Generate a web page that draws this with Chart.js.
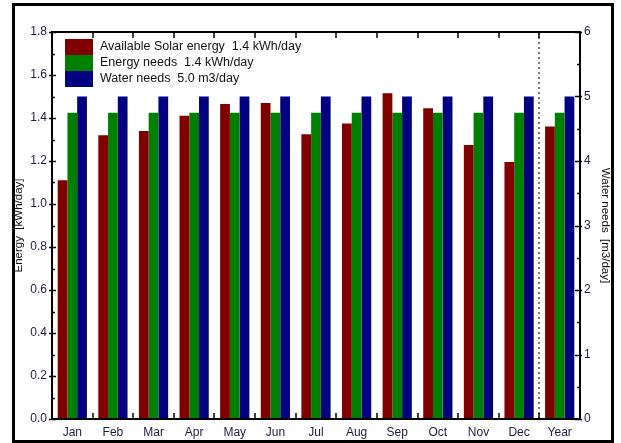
<!DOCTYPE html>
<html>
<head>
<meta charset="utf-8">
<script src="https://cdn.jsdelivr.net/npm/chart.js@4/dist/chart.umd.min.js"></script>
<style>
  html, body { margin: 0; padding: 0; background: #fff; }
  #wrap { position: relative; width: 621px; height: 443px; }
</style>
</head>
<body>
<div id="wrap"><canvas id="solarChart" width="621" height="443"></canvas></div>
<script>
// Monthly values
const months = ['Jan', 'Feb', 'Mar', 'Apr', 'May', 'Jun', 'Jul', 'Aug', 'Sep', 'Oct', 'Nov', 'Dec', 'Year'];
const solarEnergy = [1.11, 1.32, 1.34, 1.41, 1.465, 1.47, 1.325, 1.375, 1.515, 1.445, 1.275, 1.195, 1.36];
const energyNeeds = [1.425, 1.425, 1.425, 1.425, 1.425, 1.425, 1.425, 1.425, 1.425, 1.425, 1.425, 1.425, 1.425];
const waterNeeds = [5.0, 5.0, 5.0, 5.0, 5.0, 5.0, 5.0, 5.0, 5.0, 5.0, 5.0, 5.0, 5.0];
const seriesLabels = ['Available Solar energy  1.4 kWh/day', 'Energy needs  1.4 kWh/day', 'Water needs  5.0 m3/day'];

const labelColor = '#1c1c3a';
const fontFamily = '"Liberation Sans", Arial, sans-serif';

// frame, plot box, tick marks, dotted separator and legend
const decorPlugin = {
    id: 'decor',
    afterDatasetsDraw(chart) {
        const ctx = chart.ctx;
        const area = chart.chartArea;
        const xS = chart.scales.x;
        const yL = chart.scales.y;
        const yR = chart.scales.y2;
        ctx.save();

        // outer frame
        ctx.strokeStyle = '#000';
        ctx.lineWidth = 3;
        ctx.strokeRect(13.5, 4.5, 599, 437);

        // dotted line between Dec and Year
        const sepX = Math.round((xS.getPixelForValue(11) + xS.getPixelForValue(12)) / 2);
        ctx.strokeStyle = '#777';
        ctx.lineWidth = 2;
        ctx.setLineDash([2, 3]);
        ctx.beginPath();
        ctx.moveTo(sepX, area.top);
        ctx.lineTo(sepX, area.bottom);
        ctx.stroke();
        ctx.setLineDash([]);

        // plot box
        ctx.strokeStyle = '#000';
        ctx.lineWidth = 2;
        ctx.strokeRect(area.left, area.top, area.right - area.left, area.bottom - area.top);

        ctx.lineWidth = 1.5;
        ctx.beginPath();
        // category boundary ticks, top and bottom
        for (let i = 1; i < months.length; i++) {
            const x = Math.round((xS.getPixelForValue(i - 1) + xS.getPixelForValue(i)) / 2);
            ctx.moveTo(x, area.top);
            ctx.lineTo(x, area.top + 6);
            ctx.moveTo(x, area.bottom);
            ctx.lineTo(x, area.bottom - 6);
        }
        // left axis ticks
        for (let k = 0; k <= 18; k++) {
            const y = Math.round(yL.getPixelForValue(k / 10)) + 0.5;
            if (k % 2 === 0) {
                ctx.moveTo(area.left - 3, y);
                ctx.lineTo(area.left + 4, y);
            } else {
                ctx.moveTo(area.left, y);
                ctx.lineTo(area.left + 3, y);
            }
        }
        // right axis ticks
        for (let k = 0; k <= 12; k++) {
            const y = Math.round(yR.getPixelForValue(k / 2)) + 0.5;
            if (k % 2 === 0) {
                ctx.moveTo(area.right - 5, y);
                ctx.lineTo(area.right + 2, y);
            } else {
                ctx.moveTo(area.right - 3, y);
                ctx.lineTo(area.right, y);
            }
        }
        ctx.stroke();
        ctx.restore();
    },
    afterDraw(chart) {
        const ctx = chart.ctx;
        const area = chart.chartArea;
        const boxX = area.left + 13;
        let boxY = area.top + 7;
        ctx.save();
        ctx.font = '12.5px ' + fontFamily;
        ctx.textBaseline = 'middle';
        chart.data.datasets.forEach(ds => {
            ctx.fillStyle = ds.backgroundColor;
            ctx.fillRect(boxX, boxY, 28, 16);
            ctx.fillStyle = '#111';
            ctx.fillText(ds.label, boxX + 35, boxY + 8);
            boxY += 16;
        });
        ctx.restore();
    }
};

const ctx = document.getElementById('solarChart').getContext('2d');
new Chart(ctx, {
    type: 'bar',
    data: {
        labels: months,
        datasets: [{
            label: seriesLabels[0],
            data: solarEnergy,
            backgroundColor: '#800000',
            yAxisID: 'y'
        }, {
            label: seriesLabels[1],
            data: energyNeeds,
            backgroundColor: '#008000',
            yAxisID: 'y'
        }, {
            label: seriesLabels[2],
            data: waterNeeds,
            backgroundColor: '#000080',
            yAxisID: 'y2'
        }]
    },
    options: {
        responsive: false,
        animation: false,
        layout: { padding: { top: 32, left: 0, right: 0, bottom: 0 } },
        datasets: {
            bar: { barPercentage: 1.0, categoryPercentage: 0.72 }
        },
        plugins: {
            legend: { display: false },
            tooltip: { enabled: false }
        },
        scales: {
            x: {
                grid: { display: false, drawTicks: false },
                border: { display: false },
                ticks: {
                    color: labelColor,
                    padding: 6,
                    maxRotation: 0,
                    autoSkip: false,
                    font: { family: fontFamily, size: 12 }
                },
                afterFit(scale) { scale.height = 24; }
            },
            y: {
                position: 'left',
                min: 0,
                max: 1.8,
                grid: { display: false, drawTicks: false },
                border: { display: false },
                ticks: {
                    stepSize: 0.2,
                    color: labelColor,
                    padding: 5,
                    font: { family: fontFamily, size: 12 },
                    callback: v => v.toFixed(1)
                },
                title: {
                    display: true,
                    text: 'Energy  [kWh/day]',
                    color: '#111',
                    font: { family: fontFamily, size: 11.5 },
                    padding: { top: 12, bottom: 0 }
                },
                afterFit(scale) { scale.width = 52; }
            },
            y2: {
                position: 'right',
                min: 0,
                max: 6,
                grid: { display: false, drawTicks: false },
                border: { display: false },
                ticks: {
                    stepSize: 1,
                    color: labelColor,
                    padding: 4,
                    font: { family: fontFamily, size: 12 }
                },
                title: {
                    display: true,
                    text: 'Water needs  [m3/day]',
                    color: '#111',
                    font: { family: fontFamily, size: 11.5 },
                    padding: { top: 9, bottom: 0 }
                },
                afterFit(scale) { scale.width = 41; }
            }
        }
    },
    plugins: [decorPlugin]
});
</script>
</body>
</html>
